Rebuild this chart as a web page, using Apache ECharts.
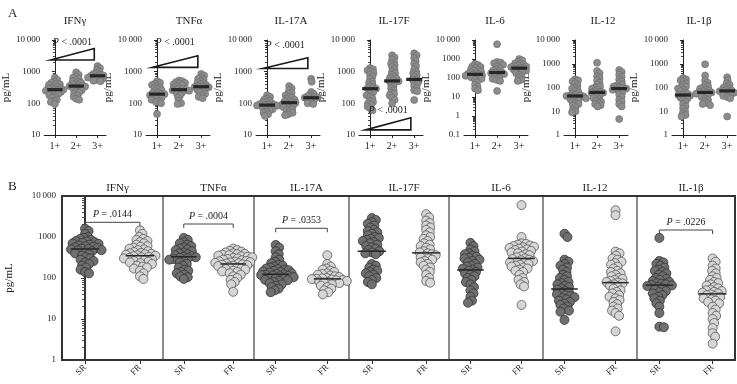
<!DOCTYPE html>
<html>
<head>
<meta charset="utf-8">
<script src="https://cdn.jsdelivr.net/npm/echarts@6/dist/echarts.min.js"></script>
<style>
  html, body { margin: 0; padding: 0; background: #fff; }
  #main { width: 737px; height: 384px; }
</style>
</head>
<body>
<div id="main"></div>
<script>
// cytokines and category labels
var cytokines = ['IFNγ', 'TNFα', 'IL-17A', 'IL-17F', 'IL-6', 'IL-12', 'IL-1β'];
var gradeLabels = ['1+', '2+', '3+'];
var groupLabels = ['SR', 'FR'];

// panel A: pg/mL by grade (1+, 2+, 3+)
var gradeIFNg = [
  [650, 550, 500, 450, 420, 400, 380, 350, 330, 310, 300, 290, 280, 270, 260, 250, 240, 230, 220, 200, 190, 180, 160, 150, 130, 120, 110, 95],
  [950, 800, 700, 650, 600, 550, 500, 480, 450, 420, 400, 380, 360, 350, 340, 320, 300, 280, 260, 240, 220, 200, 180, 160, 140, 130],
  [1500, 1300, 1150, 1000, 900, 850, 800, 760, 740, 720, 700, 680, 650, 620, 600, 560, 520, 500]
];
var gradeTNFa = [
  [500, 450, 420, 380, 350, 320, 300, 280, 260, 240, 220, 210, 200, 195, 190, 180, 170, 160, 150, 140, 130, 120, 110, 100, 46],
  [530, 500, 470, 440, 420, 400, 380, 350, 320, 300, 290, 280, 270, 260, 250, 240, 220, 200, 180, 150, 120, 100, 95],
  [850, 750, 650, 600, 550, 500, 460, 430, 400, 380, 350, 340, 330, 320, 300, 280, 260, 240, 220, 200, 180, 160, 145]
];
var gradeIL17A = [
  [180, 160, 140, 130, 120, 110, 105, 100, 95, 92, 90, 88, 86, 84, 82, 80, 75, 70, 65, 60, 55, 50, 45, 40],
  [350, 300, 260, 220, 200, 180, 160, 150, 140, 130, 120, 115, 110, 105, 100, 95, 90, 85, 80, 75, 70, 65, 60, 55, 50, 45, 42],
  [600, 480, 230, 200, 180, 170, 160, 155, 150, 145, 140, 130, 120, 110, 100, 95]
];
var gradeIL17F = [
  [1300, 1200, 1100, 1000, 900, 800, 700, 600, 500, 450, 400, 350, 320, 300, 290, 250, 220, 200, 180, 160, 140, 120, 110, 100, 90, 80, 70, 60],
  [3300, 2800, 2400, 2000, 1800, 1600, 1400, 1200, 1000, 900, 800, 700, 650, 600, 550, 520, 500, 450, 400, 350, 300, 260, 220, 200, 180, 150, 130, 100],
  [3800, 3300, 2700, 2200, 1800, 1500, 1200, 1000, 900, 800, 700, 600, 570, 500, 450, 400, 350, 300, 260, 240, 127]
];
var gradeIL6 = [
  [550, 480, 420, 380, 340, 300, 270, 240, 220, 200, 180, 165, 155, 150, 140, 130, 120, 110, 100, 90, 80, 60, 45, 35, 28, 23],
  [6000, 700, 650, 600, 500, 400, 320, 280, 250, 220, 200, 190, 180, 160, 140, 120, 100, 90, 80, 70, 21],
  [1000, 850, 700, 600, 550, 500, 450, 420, 400, 380, 350, 330, 320, 300, 280, 250, 220, 200, 180, 150, 120, 100, 80, 70]
];
var gradeIL12 = [
  [220, 200, 180, 150, 120, 100, 90, 80, 70, 60, 55, 50, 47, 45, 44, 42, 40, 38, 35, 32, 30, 28, 25, 22, 20, 18, 15, 12, 10, 9],
  [1100, 500, 400, 300, 250, 200, 160, 130, 110, 100, 90, 80, 70, 65, 62, 60, 55, 50, 45, 40, 36, 32, 28, 25, 22, 20, 18, 16],
  [550, 450, 350, 280, 220, 180, 150, 130, 120, 110, 100, 95, 90, 85, 80, 70, 60, 50, 40, 30, 25, 20, 16, 4.7]
];
var gradeIL1b = [
  [250, 220, 200, 180, 150, 130, 110, 100, 90, 80, 70, 60, 55, 50, 48, 45, 42, 38, 35, 30, 25, 20, 16, 13, 10, 8, 7, 6],
  [950, 320, 200, 160, 130, 110, 100, 90, 80, 75, 70, 65, 62, 60, 55, 50, 45, 40, 35, 30, 26, 22, 20, 18],
  [270, 200, 150, 130, 110, 100, 90, 80, 75, 72, 70, 65, 60, 55, 50, 45, 40, 35, 6]
];
var gradeData = [gradeIFNg, gradeTNFa, gradeIL17A, gradeIL17F, gradeIL6, gradeIL12, gradeIL1b];
var gradeMedians = [[270, 350, 740], [195, 270, 335], [88, 105, 150], [290, 510, 570], [156, 195, 330], [44, 62, 90], [48, 62, 72]];
var gradeAxisMin = [10, 10, 10, 10, 0.1, 1, 1];
// trend wedges (low / high end, pg/mL) and where the P label sits
var trendLow = [2330, 1370, 1260, 14.5, null, null, null];
var trendHigh = [5400, 3180, 2740, 35, null, null, null];
var trendTextAt = [8200, 8200, 6800, 60, null, null, null];
var trendP = '.0001';

// panel B: pg/mL by response (SR, FR)
var respIFNg = [
  [1600, 1400, 1200, 1000, 950, 900, 850, 800, 780, 750, 720, 700, 680, 650, 620, 600, 580, 560, 540, 520, 510, 500, 480, 470, 450, 420, 400, 380, 350, 320, 300, 280, 260, 240, 220, 200, 180, 160, 140, 130],
  [1450, 1200, 1000, 900, 850, 800, 750, 700, 650, 600, 580, 550, 520, 500, 480, 450, 430, 410, 400, 390, 380, 370, 360, 350, 340, 330, 320, 310, 300, 290, 280, 270, 260, 250, 240, 230, 220, 200, 190, 180, 170, 150, 130, 110, 95]
];
var respTNFa = [
  [950, 850, 750, 700, 650, 600, 560, 520, 500, 480, 450, 420, 400, 380, 360, 340, 330, 320, 310, 300, 290, 280, 260, 240, 220, 200, 180, 160, 150, 140, 130, 120, 110, 105, 95],
  [520, 480, 460, 440, 420, 400, 390, 380, 370, 360, 350, 340, 330, 320, 310, 300, 290, 280, 270, 260, 255, 250, 245, 240, 235, 230, 225, 220, 215, 210, 205, 200, 195, 190, 180, 170, 165, 160, 150, 145, 140, 130, 120, 110, 100, 90, 80, 70, 46]
];
var respIL17A = [
  [640, 550, 450, 380, 320, 280, 250, 230, 210, 200, 190, 180, 170, 165, 160, 155, 150, 145, 140, 135, 130, 125, 122, 120, 118, 115, 112, 110, 105, 100, 98, 95, 90, 88, 85, 80, 75, 70, 65, 60, 55, 50, 45],
  [360, 220, 190, 170, 160, 150, 140, 130, 125, 120, 115, 110, 105, 100, 98, 96, 94, 92, 90, 88, 85, 82, 80, 78, 75, 70, 65, 60, 55, 50, 45, 40]
];
var respIL17F = [
  [2900, 2600, 2300, 2100, 1900, 1700, 1500, 1400, 1300, 1200, 1100, 1000, 950, 900, 850, 800, 750, 700, 650, 600, 560, 520, 480, 450, 420, 400, 380, 220, 200, 180, 160, 150, 140, 130, 120, 110, 100, 90, 80, 70],
  [3600, 3000, 2500, 2200, 1900, 1700, 1500, 1300, 1100, 1000, 900, 800, 700, 650, 600, 550, 500, 450, 420, 400, 380, 360, 340, 320, 300, 280, 260, 240, 220, 200, 180, 160, 140, 120, 100, 85, 77]
];
var respIL6 = [
  [720, 600, 500, 450, 400, 380, 350, 330, 310, 300, 280, 260, 240, 220, 200, 190, 180, 170, 160, 150, 140, 130, 120, 110, 100, 90, 80, 70, 60, 50, 42, 35, 28, 25],
  [6000, 1000, 700, 680, 650, 620, 600, 580, 560, 540, 520, 500, 480, 460, 440, 420, 400, 380, 360, 340, 320, 300, 290, 280, 270, 260, 250, 240, 230, 220, 210, 200, 190, 180, 170, 160, 150, 140, 120, 100, 90, 80, 70, 62, 22]
];
var respIL12 = [
  [1200, 1000, 280, 250, 220, 200, 180, 160, 140, 120, 110, 100, 90, 80, 75, 70, 65, 60, 56, 52, 48, 45, 42, 40, 38, 36, 34, 32, 30, 28, 26, 24, 22, 20, 18, 16, 15, 9.5],
  [4500, 3400, 440, 400, 350, 300, 280, 250, 230, 210, 190, 170, 150, 140, 130, 120, 110, 100, 95, 90, 85, 80, 77, 74, 70, 65, 60, 55, 50, 46, 42, 38, 35, 32, 29, 26, 23, 20, 18, 16, 14, 12, 5]
];
var respIL1b = [
  [950, 260, 240, 220, 200, 180, 160, 150, 140, 130, 120, 110, 100, 95, 90, 85, 80, 75, 72, 70, 68, 66, 64, 60, 56, 52, 48, 45, 42, 38, 35, 32, 28, 24, 20, 14, 6.5, 6.3],
  [300, 250, 200, 170, 150, 130, 110, 100, 90, 80, 75, 70, 65, 60, 56, 52, 50, 48, 46, 44, 42, 40, 38, 36, 34, 32, 30, 28, 26, 24, 20, 17, 14, 12, 10, 8, 6, 4.5, 3.7, 2.5]
];
var respData = [respIFNg, respTNFa, respIL17A, respIL17F, respIL6, respIL12, respIL1b];
var respMedians = [[510, 350], [330, 220], [123, 95], [450, 410], [157, 300], [54, 77], [67, 41]];
var respP = ['.0144', '.0004', '.0353', null, null, null, '.0226'];
var respBracketAt = [2280, 2075, 1630, null, null, null, 1480];

// layout
var aLeft = [42, 146, 256, 359, 464, 564, 672];
var aTitleX = [70, 184, 286, 389, 490, 598, 694];
var bEdges = [62, 163, 254, 349, 449, 543, 637, 735];
var FONT = 'Liberation Serif';

var chart = echarts.init(document.getElementById('main'));

function tickFmt(v) {
  if (v >= 9999) return '10\u2009000';
  if (v < 1) return String(+v.toFixed(1));
  return String(Math.round(v));
}

function medianItem(hw, lw) {
  return function (params, api) {
    var c = api.value(0), m = api.value(1);
    var p0 = api.coord([c - hw, m]), p1 = api.coord([c + hw, m]);
    return {
      type: 'line',
      shape: { x1: p0[0], y1: p0[1], x2: p1[0], y2: p1[1] },
      style: { stroke: '#262626', lineWidth: lw }
    };
  };
}

var pRich = { i: { fontFamily: FONT, fontStyle: 'italic', fontSize: 10, fill: '#222' } };

function wedgeItem(params, api) {
  var x0 = api.value(0), x1 = api.value(1), lo = api.value(2), hi = api.value(3), t = api.value(4);
  var a = api.coord([x0, lo]), b = api.coord([x1, hi]), c = api.coord([x1, lo]);
  var tp = api.coord([(x0 + x1) / 2, t]);
  return {
    type: 'group',
    children: [
      { type: 'polygon', shape: { points: [a, b, c] }, style: { fill: '#fff', stroke: '#1a1a1a', lineWidth: 1.6 } },
      { type: 'text', x: tp[0], y: tp[1], style: {
        text: '{i|P} < ' + trendP, rich: pRich, fontFamily: FONT, fontSize: 10, fill: '#222',
        align: 'center', verticalAlign: 'middle' } }
    ]
  };
}

function bracketItem(label) {
  return function (params, api) {
    var at = api.value(2);
    var a = api.coord([api.value(0), at]), b = api.coord([api.value(1), at]);
    return {
      type: 'group',
      children: [
        { type: 'polyline', shape: { points: [[a[0], a[1] + 4], a, b, [b[0], b[1] + 4]] },
          style: { stroke: '#444', lineWidth: 1, fill: null } },
        { type: 'text', x: (a[0] + b[0]) / 2, y: a[1] - 8, style: {
          text: '{i|P} = ' + label, rich: pRich, fontFamily: FONT, fontSize: 10, fill: '#222',
          align: 'center', verticalAlign: 'middle' } }
      ]
    };
  };
}

var grids = [], xAxes = [], yAxes = [], series = [], titles = [], swarmInfo = [];

titles.push({ text: 'A', left: 3, top: 2, textStyle: { fontFamily: FONT, fontSize: 13, fontWeight: 'normal', color: '#222' } });
titles.push({ text: 'B', left: 3, top: 175, textStyle: { fontFamily: FONT, fontSize: 13, fontWeight: 'normal', color: '#222' } });

// panel A
cytokines.forEach(function (name, k) {
  var gi = grids.length;
  grids.push({ left: aLeft[k], top: 40, width: 64, height: 95 });
  titles.push({ text: name, left: aTitleX[k], top: 11, textAlign: 'center',
    textStyle: { fontFamily: FONT, fontSize: 11, fontWeight: 'normal', color: '#222' } });
  xAxes.push({
    type: 'value', gridIndex: gi, min: -0.5, max: 2.4,
    axisLine: { show: true, lineStyle: { color: '#222', width: 1 } },
    axisTick: { show: true, customValues: [0, 1, 2], length: 3, lineStyle: { color: '#222' } },
    axisLabel: { customValues: [0, 1, 2], formatter: function (v) { return gradeLabels[Math.round(v)]; },
      fontFamily: FONT, fontSize: 10, color: '#222', margin: 6 },
    splitLine: { show: false }
  });
  yAxes.push({
    type: 'log', logBase: 10, gridIndex: gi, min: gradeAxisMin[k], max: 10000,
    name: 'pg/mL', nameLocation: 'middle', nameRotate: 90, nameGap: 31,
    nameTextStyle: { fontFamily: FONT, fontSize: 11, color: '#222' },
    axisLine: { show: true, lineStyle: { color: '#222', width: 1 } },
    axisTick: { show: true, length: 3, lineStyle: { color: '#222' } },
    minorTick: { show: true, splitNumber: 9, length: 2, lineStyle: { color: '#444' } },
    axisLabel: { formatter: tickFmt, fontFamily: FONT, fontSize: 9, color: '#222', margin: 4 },
    splitLine: { show: false }
  });
  var pts = [];
  gradeData[k].forEach(function (vals, c) {
    vals.forEach(function (v) { pts.push([c, v]); });
  });
  swarmInfo.push({ series: series.length, grid: gi, minDist: 3.1 });
  series.push({
    type: 'scatter', xAxisIndex: gi, yAxisIndex: gi, data: pts, symbolSize: 7, z: 2,
    itemStyle: { color: '#8c8c8c', borderColor: '#6a6a6a', borderWidth: 0.6, opacity: 1 }
  });
  series.push({
    type: 'custom', xAxisIndex: gi, yAxisIndex: gi, z: 4, encode: { x: 0, y: 1 },
    data: gradeMedians[k].map(function (m, c) { return [c, m]; }),
    renderItem: medianItem(0.36, 3.2)
  });
  if (trendLow[k] != null) {
    series.push({
      type: 'custom', xAxisIndex: gi, yAxisIndex: gi, z: 5, encode: { x: [0, 1], y: [2, 3] },
      data: [[-0.2, 1.85, trendLow[k], trendHigh[k], trendTextAt[k]]],
      renderItem: wedgeItem
    });
  }
});

// panel B
cytokines.forEach(function (name, k) {
  var gi = grids.length;
  var left = bEdges[k], width = bEdges[k + 1] - bEdges[k];
  grids.push({ left: left, top: 196, width: width, height: 164, show: true, borderColor: '#666', borderWidth: 1 });
  titles.push({ text: name, left: left + width / 2, top: 178, textAlign: 'center',
    textStyle: { fontFamily: FONT, fontSize: 11, fontWeight: 'normal', color: '#222' } });
  xAxes.push({
    type: 'value', gridIndex: gi, min: -0.42, max: 1.42,
    axisLine: { show: true, lineStyle: { color: '#333', width: 2 } },
    axisTick: { show: true, customValues: [0, 1], length: 4, lineStyle: { color: '#333' } },
    axisLabel: { customValues: [0, 1], formatter: function (v) { return groupLabels[Math.round(v)]; },
      rotate: 45, fontFamily: FONT, fontSize: 9, color: '#222', margin: 6 },
    splitLine: { show: false }
  });
  var first = k === 0;
  yAxes.push({
    type: 'log', logBase: 10, gridIndex: gi, min: 1, max: 10000, show: first,
    name: first ? 'pg/mL' : '', nameLocation: 'middle', nameRotate: 90, nameGap: 47,
    nameTextStyle: { fontFamily: FONT, fontSize: 11, color: '#222' },
    axisLine: { show: first, lineStyle: { color: '#333', width: 2 } },
    axisTick: { show: first, length: 4, lineStyle: { color: '#333' } },
    minorTick: { show: first, splitNumber: 9, length: 3, lineStyle: { color: '#444' } },
    axisLabel: { show: first, formatter: tickFmt, fontFamily: FONT, fontSize: 9, color: '#222', margin: 6 },
    splitLine: { show: false }
  });
  var colors = [['#6f6f6f', '#333'], ['#d6d6d6', '#555']];
  respData[k].forEach(function (vals, c) {
    swarmInfo.push({ series: series.length, grid: gi, minDist: 4.1 });
    series.push({
      type: 'scatter', xAxisIndex: gi, yAxisIndex: gi, symbolSize: 9, z: 2,
      data: vals.map(function (v) { return [c, v]; }),
      itemStyle: { color: colors[c][0], borderColor: colors[c][1], borderWidth: 0.8, opacity: 1 }
    });
  });
  series.push({
    type: 'custom', xAxisIndex: gi, yAxisIndex: gi, z: 4, encode: { x: 0, y: 1 },
    data: respMedians[k].map(function (m, c) { return [c, m]; }),
    renderItem: medianItem(0.26, 1.5)
  });
  if (respP[k] != null) {
    series.push({
      type: 'custom', xAxisIndex: gi, yAxisIndex: gi, z: 5, encode: { x: [0, 1], y: 2 },
      data: [[0, 1, respBracketAt[k]]],
      renderItem: bracketItem(respP[k])
    });
  }
});

var option = {
  animation: false,
  backgroundColor: '#fff',
  title: titles,
  grid: grids,
  xAxis: xAxes,
  yAxis: yAxes,
  series: series,
  graphic: [{
    type: 'rect', silent: true, z: 10,
    shape: { x: bEdges[0], y: 196, width: bEdges[7] - bEdges[0], height: 164 },
    style: { fill: null, stroke: '#333', lineWidth: 2 }
  }]
};
chart.setOption(option);

// beeswarm: spread points sideways in pixel space so they don't pile up
function swarm(ys, minDist) {
  var order = ys.map(function (y, i) { return i; }).sort(function (a, b) { return ys[a] - ys[b]; });
  var placed = [], dx = [];
  order.forEach(function (i) {
    var y = ys[i], best = 0;
    for (var s = 0; s < 400; s++) {
      var cand = (s % 2 ? 1 : -1) * Math.ceil(s / 2) * 0.5;
      var ok = placed.every(function (p) {
        var a = cand - p.x, b = y - p.y;
        return a * a + b * b >= minDist * minDist;
      });
      if (ok) { best = cand; break; }
    }
    placed.push({ x: best, y: y });
    dx[i] = best;
  });
  return dx;
}

swarmInfo.forEach(function (info) {
  var s = series[info.series];
  var groups = {};
  s.data.forEach(function (d, i) { (groups[d[0]] = groups[d[0]] || []).push(i); });
  Object.keys(groups).forEach(function (c) {
    var idx = groups[c];
    var px = idx.map(function (i) { return chart.convertToPixel({ gridIndex: info.grid }, s.data[i]); });
    var dx = swarm(px.map(function (p) { return p[1]; }), info.minDist);
    idx.forEach(function (i, j) {
      var back = chart.convertFromPixel({ gridIndex: info.grid }, [px[j][0] + dx[j], px[j][1]]);
      s.data[i] = [back[0], s.data[i][1]];
    });
  });
});
chart.setOption({ series: series });
</script>
</body>
</html>
